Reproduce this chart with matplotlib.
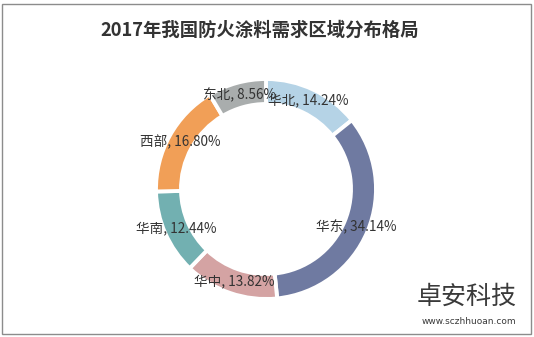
import numpy as np
import matplotlib.pyplot as plt
from matplotlib.patches import Rectangle

plt.rcParams['font.family'] = ['Noto Sans CJK SC', 'DejaVu Sans']

regions = ["华北", "华东", "华中", "华南", "西部", "东北"]
shares = [14.24, 34.14, 13.82, 12.44, 16.80, 8.56]
colors = ["#b5d3e6", "#6f7aa1", "#d4a3a3", "#72b0b1", "#f19f57", "#a9adad"]

W, H = 534, 337
fig = plt.figure(figsize=(W / 100, H / 100), dpi=100)

# frame around the whole picture
fig.patches.append(Rectangle((2 / W, 3 / H), 529 / W, 330 / H, transform=fig.transFigure,
                             fill=False, edgecolor="#8c8c8c", linewidth=1))

cx, cy, half = 266, 189, 120
ax = fig.add_axes([(cx - half) / W, (H - cy - half) / H, 2 * half / W, 2 * half / H])

R = 1.1
wedges, _ = ax.pie(shares, colors=colors, startangle=90, counterclock=False, radius=R,
                   wedgeprops=dict(width=0.25, edgecolor="white", linewidth=2.8))
# pie() resets the limits, so set them afterwards
ax.set_xlim(-1.2, 1.2)
ax.set_ylim(-1.2, 1.2)
ax.set_aspect("equal")
ax.axis("off")

for w, name, v in zip(wedges, regions, shares):
    ang = np.deg2rad((w.theta1 + w.theta2) / 2)
    r = 0.89 * R
    ax.text(r * np.cos(ang), r * np.sin(ang), f"{name}, {v:.2f}%",
            ha="center", va="center", fontsize=9.8, color="#333333")

fig.text(260 / W, 1 - 30 / H, "2017年我国防火涂料需求区域分布格局", ha="center", va="center",
         fontsize=13.2, fontweight="bold", color="#333333")

# logo
fig.text(467 / W, 1 - 297 / H, "卓安科技", ha="center", va="center", fontsize=18,
         color="#3a3a3a")
fig.text(469 / W, 1 - 322 / H, "www.sczhhuoan.com", ha="center", va="center",
         fontsize=6.5, color="#3a3a3a", family="DejaVu Sans")

fig.savefig("out.png", dpi=100)
